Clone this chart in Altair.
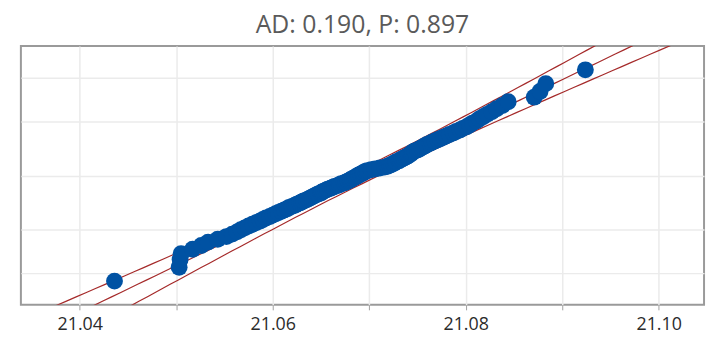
import math
from statistics import NormalDist
import altair as alt
import pandas as pd

# Sample values (sorted)
VALUES = [
    21.0436, 21.0503, 21.0504, 21.0505, 21.0517, 21.0526, 21.0533, 21.0543, 21.0552, 21.0558,
    21.0563, 21.0567, 21.0571, 21.0575, 21.0579, 21.0583, 21.0587, 21.0590, 21.0593, 21.0597,
    21.0600, 21.0603, 21.0606, 21.0609, 21.0612, 21.0615, 21.0617, 21.0620, 21.0623, 21.0625,
    21.0628, 21.0630, 21.0632, 21.0635, 21.0637, 21.0639, 21.0641, 21.0643, 21.0645, 21.0647,
    21.0650, 21.0651, 21.0653, 21.0655, 21.0657, 21.0660, 21.0662, 21.0664, 21.0667, 21.0669,
    21.0671, 21.0674, 21.0676, 21.0678, 21.0680, 21.0681, 21.0683, 21.0685, 21.0686, 21.0688,
    21.0689, 21.0691, 21.0693, 21.0694, 21.0696, 21.0698, 21.0702, 21.0706, 21.0711, 21.0716,
    21.0719, 21.0721, 21.0723, 21.0725, 21.0727, 21.0728, 21.0731, 21.0732, 21.0734, 21.0736,
    21.0738, 21.0740, 21.0741, 21.0743, 21.0744, 21.0745, 21.0747, 21.0750, 21.0752, 21.0754,
    21.0756, 21.0758, 21.0760, 21.0763, 21.0765, 21.0768, 21.0771, 21.0774, 21.0777, 21.0780,
    21.0783, 21.0787, 21.0790, 21.0794, 21.0797, 21.0801, 21.0804, 21.0807, 21.0811, 21.0814,
    21.0818, 21.0822, 21.0827, 21.0832, 21.0838, 21.0844, 21.0871, 21.0877, 21.0883, 21.0924,
]

TITLE = "AD: 0.190, P: 0.897"
FIT_MEAN = 21.0694
FIT_SD = 0.0090
X_TICKS = [21.04, 21.05, 21.06, 21.07, 21.08, 21.09, 21.10]
Y_GRID_PCT = [1, 10, 50, 90, 99]
X_DOMAIN = [21.0339, 21.1047]
Y_DOMAIN_PCT = [0.1, 99.9]

nd = NormalDist()
n = len(VALUES)
pts = pd.DataFrame({
    "x": VALUES,
    "z": [nd.inv_cdf((i + 1 - 0.3) / (n + 0.4)) for i in range(n)],
})

# fitted line and 95% confidence bands
rows = []
for k in range(-34, 35):
    z = k / 10
    c = FIT_MEAN + z * FIT_SD
    h = 1.96 * FIT_SD * math.sqrt(1 / n + z * z / (2 * n))
    rows += [
        {"z": z, "x": c, "band": "fit"},
        {"z": z, "x": c - h, "band": "lo"},
        {"z": z, "x": c + h, "band": "hi"},
    ]
lines = pd.DataFrame(rows)

y_grid = [nd.inv_cdf(p / 100) for p in Y_GRID_PCT]
y_dom = [nd.inv_cdf(p / 100) for p in Y_DOMAIN_PCT]

xscale = alt.Scale(domain=X_DOMAIN, nice=False, zero=False)
yscale = alt.Scale(domain=y_dom, nice=False, zero=False)

xaxis = alt.Axis(
    values=X_TICKS, title=None, grid=True, gridColor="#ebebeb", gridWidth=1.5,
    domain=False, tickColor="#a0a0a0", tickSize=5, tickWidth=1,
    labelExpr="(round(datum.value*100) % 2 == 0) ? format(datum.value, '.2f') : ''",
    labelFont="Open Sans", labelFontSize=18, labelColor="#2b2b2b", labelPadding=6,
)
yaxis = alt.Axis(
    values=y_grid, title=None, grid=True, gridColor="#ebebeb", gridWidth=1.5,
    labels=False, ticks=False, domain=False,
)

line_layer = alt.Chart(lines).mark_line(color="#a52a2a", strokeWidth=1.2, clip=True).encode(
    x=alt.X("x:Q", scale=xscale, axis=xaxis),
    y=alt.Y("z:Q", scale=yscale, axis=yaxis),
    detail="band:N",
    order="z:Q",
)

pt_layer = alt.Chart(pts).mark_circle(size=290, color="#0052a3", opacity=1, clip=True).encode(
    x=alt.X("x:Q", scale=xscale),
    y=alt.Y("z:Q", scale=yscale),
)

chart = (
    alt.layer(line_layer, pt_layer)
    .properties(
        width=689, height=261,
        title=alt.TitleParams(TITLE, font="Open Sans", fontSize=25, fontWeight="normal",
                              color="#5a5a5a", anchor="middle", offset=8, lineHeight=25),
        autosize=alt.AutoSizeParams(type="none"),
        padding={"left": 13, "top": 37, "right": 5, "bottom": 30},
    )
    .configure_view(stroke="#9a9a9a", strokeWidth=2)
)

chart.save("out.html", embed_options={"renderer": "svg", "actions": False})
